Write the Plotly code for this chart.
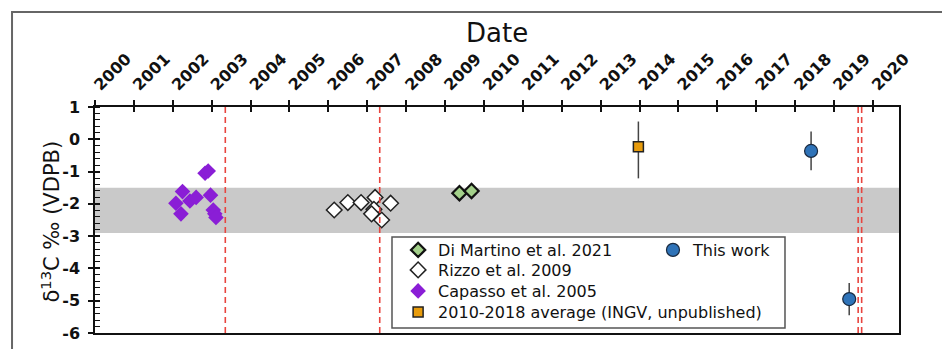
import plotly.graph_objects as go

# --- data -------------------------------------------------------------
years = list(range(2000, 2021))
year_labels = [str(y) for y in years]

d13c_ticks = [1, 0, -1, -2, -3, -4, -5, -6]
d13c_labels = ["1", "0", "-1", "-2", "-3", "-4", "-5", "-6"]

capasso_year = [2002.83, 2002.91, 2002.25, 2002.08, 2002.21, 2002.44, 2002.60, 2002.97, 2003.04, 2003.08, 2003.11]
capasso_d13c = [-1.05, -0.98, -1.62, -1.98, -2.31, -1.91, -1.80, -1.73, -2.19, -2.31, -2.42]

rizzo_year = [2006.15, 2006.50, 2006.84, 2007.20, 2007.17, 2007.11, 2007.37, 2007.60]
rizzo_d13c = [-2.19, -1.96, -1.96, -1.80, -2.17, -2.31, -2.50, -1.98]

dimartino_year = [2009.37, 2009.68]
dimartino_d13c = [-1.67, -1.60]

ingv_year = [2013.97]
ingv_d13c = [-0.23]
ingv_err_plus = [0.78]
ingv_err_minus = [0.98]

work_year = [2018.41, 2019.39]
work_d13c = [-0.36, -4.95]
work_err = [0.60, 0.50]

event_dates = [2003.35, 2007.32, 2019.62, 2019.71]
background_range = [-2.9, -1.5]

# --- figure -----------------------------------------------------------
FONT = "DejaVu Sans"
fig = go.Figure()

fig.add_trace(go.Scatter(
    x=capasso_year, y=capasso_d13c, mode="markers", name="Capasso et al. 2005",
    marker=dict(symbol="diamond", size=12, color="#8a1ed6", line=dict(width=0)),
    legend="legend3",
))
fig.add_trace(go.Scatter(
    x=rizzo_year, y=rizzo_d13c, mode="markers", name="Rizzo et al. 2009",
    marker=dict(symbol="diamond", size=12, color="white", line=dict(width=1.5, color="#222")),
    legend="legend2",
))
fig.add_trace(go.Scatter(
    x=dimartino_year, y=dimartino_d13c, mode="markers", name="Di Martino et al. 2021",
    marker=dict(symbol="diamond", size=11, color="#a3d08a", line=dict(width=2.2, color="#111")),
    legend="legend",
))
fig.add_trace(go.Scatter(
    x=ingv_year, y=ingv_d13c, mode="markers", name="2010-2018 average (INGV, unpublished)",
    marker=dict(symbol="square", size=10, color="#e89c0c", line=dict(width=1.5, color="#222")),
    error_y=dict(type="data", symmetric=False, array=ingv_err_plus, arrayminus=ingv_err_minus,
                 color="#444", thickness=1.5, width=0),
    legend="legend4",
))
fig.add_trace(go.Scatter(
    x=work_year, y=work_d13c, mode="markers", name="This work",
    marker=dict(symbol="circle", size=13, color="#2f73b8", line=dict(width=1.2, color="#1a2a40")),
    error_y=dict(type="data", array=work_err, color="#444", thickness=1.5, width=0),
    legend="legend5",
))

# inside tick halves for the crossing ticks
fig.add_trace(go.Scatter(x=[None], y=[None], xaxis="x2", yaxis="y2", showlegend=False))

shapes = []
# grey background band
shapes.append(dict(type="rect", xref="paper", yref="y", x0=0, x1=1,
                   y0=background_range[0], y1=background_range[1],
                   fillcolor="#c9c9c9", line=dict(width=0), layer="below"))
# event lines
for d in event_dates:
    shapes.append(dict(type="line", xref="x", yref="paper", x0=d, x1=d, y0=0, y1=1,
                       line=dict(color="#e8453f", width=1.6, dash="6px,4px")))
# legend frame
shapes.append(dict(type="rect", xref="paper", yref="paper", x0=0.3694, x1=0.8582,
                   y0=0.0221, y1=0.4248, line=dict(color="#555", width=1.5)))
# outer figure frame
shapes.append(dict(type="rect", xref="paper", yref="paper", x0=-0.1032, x1=1.08,
                   y0=-0.2, y1=1.4204, line=dict(color="#666", width=2)))

# axis titles
annotations = [
    dict(text="Date", xref="paper", yref="paper", x=0.5, y=1.327,
         xanchor="center", yanchor="middle", showarrow=False,
         font=dict(size=26, family=FONT, color="#111")),
    dict(text="δ<sup>13</sup>C ‰ (VDPB)", xref="paper", yref="paper", x=-0.0553, y=0.491,
         xanchor="center", yanchor="middle", textangle=-90, showarrow=False,
         font=dict(size=21, family=FONT, color="#111")),
]

axis_common = dict(showgrid=False, zeroline=False, linecolor="#111", linewidth=1.5,
                   tickcolor="#111", tickwidth=1.5, automargin=False)


def legend_box(x, y):
    return dict(x=x, y=y, xanchor="left", yanchor="middle",
                bgcolor="rgba(0,0,0,0)", borderwidth=0,
                font=dict(size=16, family=FONT, color="#111"), itemsizing="trace")


fig.update_layout(
    width=942, height=349,
    margin=dict(l=95, r=43, t=107, b=16, autoexpand=False),
    paper_bgcolor="white", plot_bgcolor="white",
    font=dict(family=FONT, color="#111"),
    shapes=shapes,
    annotations=annotations,
    showlegend=True,
    xaxis=dict(
        **axis_common, side="top", range=[2000, 2020.67], tickmode="array",
        tickvals=years, ticktext=year_labels, ticks="outside", ticklen=5,
        tickangle=-45, tickfont=dict(size=16, family=FONT, weight="bold"),
        showline=True, mirror=True,
    ),
    xaxis2=dict(
        showgrid=False, zeroline=False, overlaying="x", matches="x", side="top",
        tickmode="array", tickvals=years, ticks="inside", ticklen=5,
        tickcolor="#111", tickwidth=1.5, showticklabels=False, showline=False,
        range=[2000, 2020.67], automargin=False,
    ),
    yaxis=dict(
        **axis_common, range=[-6, 1], tickmode="array", tickvals=d13c_ticks,
        ticktext=d13c_labels, ticks="outside", ticklen=5,
        tickfont=dict(size=16, family=FONT, weight="bold"), ticklabelstandoff=5,
        showline=True, mirror=True,
        minor=dict(dtick=0.2, tick0=0, ticks="inside", ticklen=5, tickcolor="#111", tickwidth=1),
    ),
    yaxis2=dict(
        showgrid=False, zeroline=False, overlaying="y", matches="y", side="left",
        tickmode="array", tickvals=d13c_ticks, ticks="inside", ticklen=5,
        tickcolor="#111", tickwidth=1.5, showticklabels=False, showline=False,
        range=[-6, 1], automargin=False,
    ),
    legend=legend_box(0.377, 0.3673),
    legend2=legend_box(0.377, 0.2788),
    legend3=legend_box(0.377, 0.1858),
    legend4=legend_box(0.377, 0.0929),
    legend5=legend_box(0.694, 0.3673),
)

fig.write_html("out.html")
